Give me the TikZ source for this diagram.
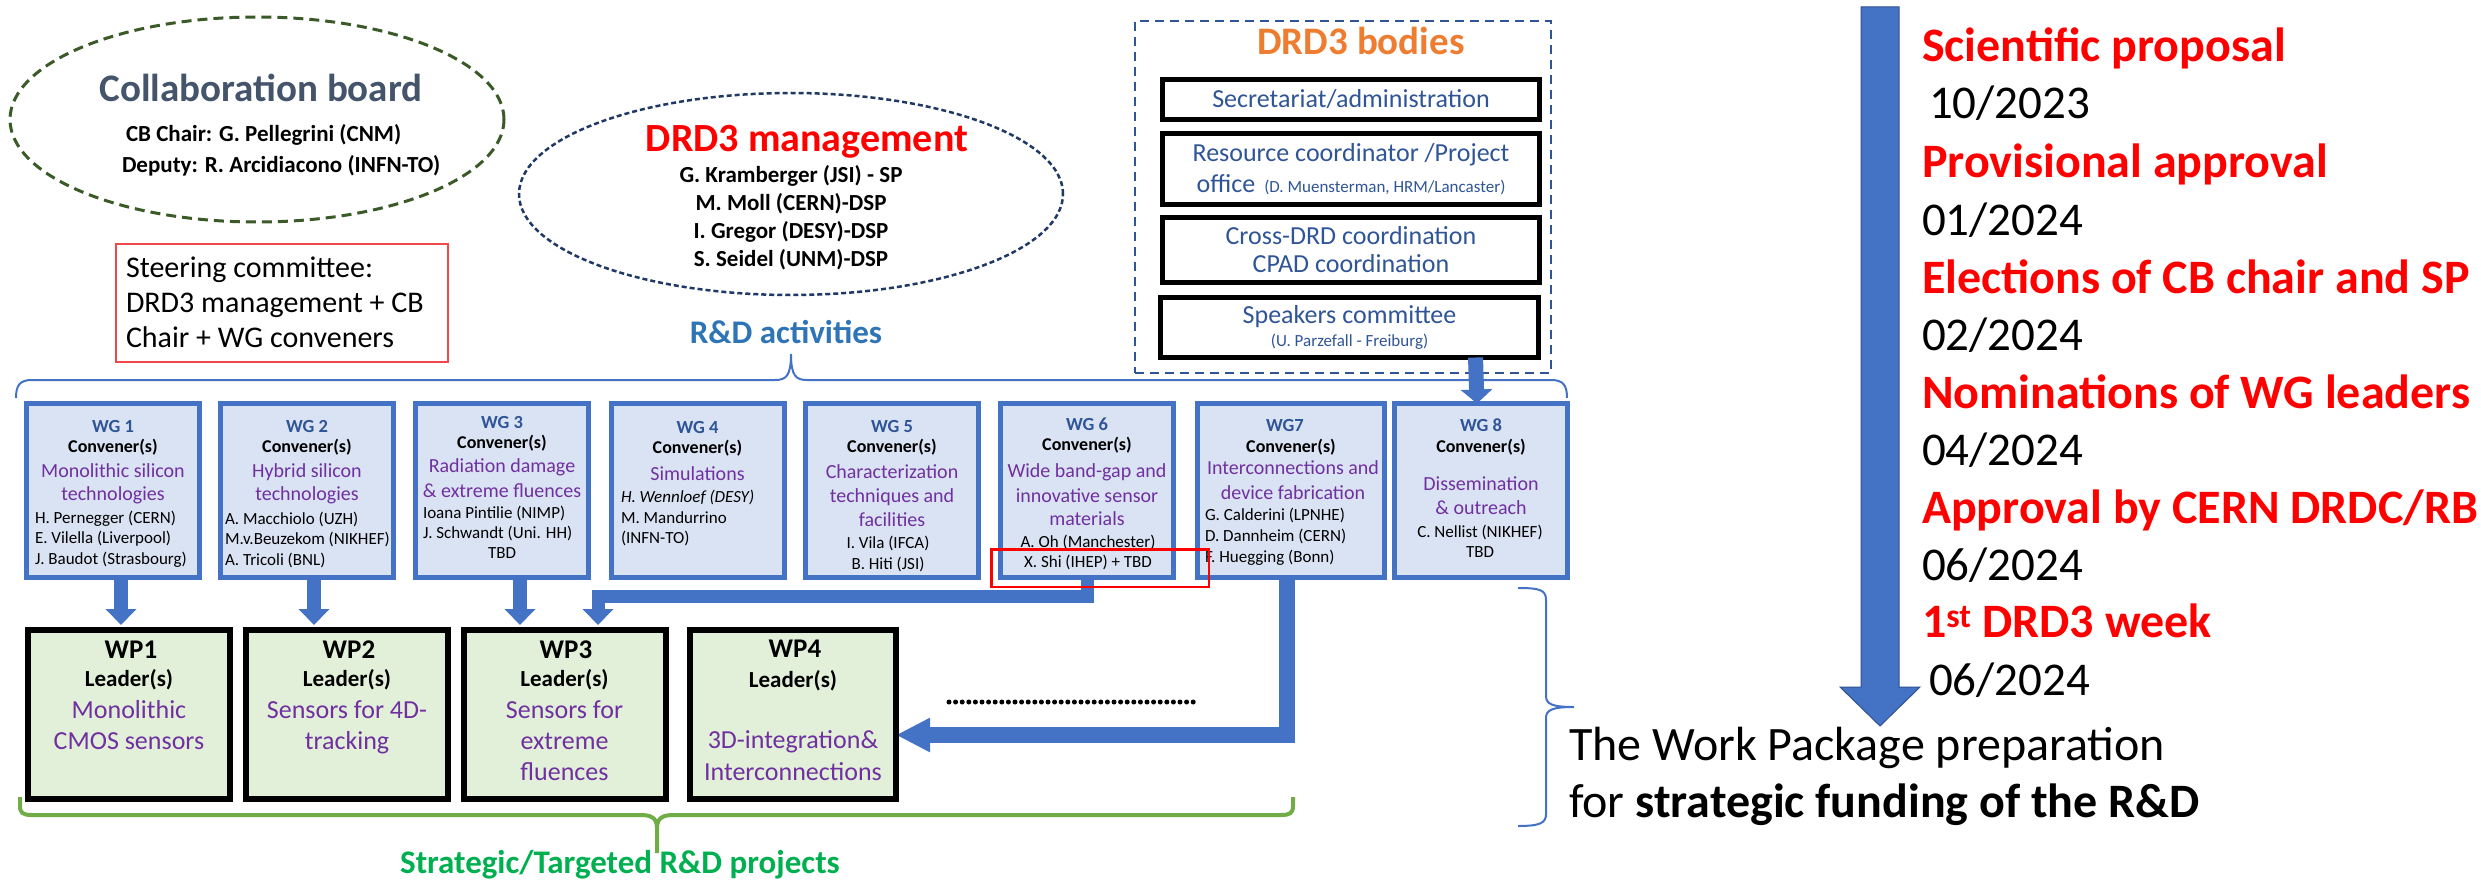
\documentclass[tikz,border=0pt]{standalone}
\usepackage{fontspec}
\setmainfont{Carlito}
\usetikzlibrary{arrows.meta,shapes.geometric}

\definecolor{wgtitle}{HTML}{2F5597}
\definecolor{wgedge}{HTML}{4472C4}
\definecolor{wgfill}{HTML}{DAE3F3}
\definecolor{wpfill}{HTML}{E2F0D9}
\definecolor{topic}{HTML}{7030A0}
\definecolor{flow}{HTML}{4472C4}
\definecolor{flowedge}{HTML}{2F528F}
\definecolor{alert}{HTML}{FF0000}
\definecolor{projgreen}{HTML}{70AD47}
\definecolor{projtext}{HTML}{00B050}
\definecolor{bodyorange}{HTML}{ED7D31}
\definecolor{slate}{HTML}{44546A}
\definecolor{rdblue}{HTML}{2E75B6}
\definecolor{cbgreen}{HTML}{3A5A28}
\definecolor{mgmtnavy}{HTML}{1F3864}
\definecolor{steerred}{HTML}{F04848}

\newcommand\setsz[1]{\fontsize{#1}{#1}\selectfont}

\tikzset{
  every node/.style={inner sep=0pt, outer sep=0pt},
  wgbox/.style={draw=wgedge, fill=wgfill, line width=5pt, minimum width=173pt, minimum height=174pt},
  wpbox/.style={draw=black, fill=wpfill, line width=6pt, minimum width=202pt, minimum height=169pt},
  bodybox/.style={draw=black, fill=white, line width=5pt, minimum width=377pt, text=wgtitle, align=center},
  wghd/.style={anchor=base, text=wgtitle, font=\setsz{18.5}\bfseries},
  wgcv/.style={anchor=base, font=\setsz{18}\bfseries},
  wgtp/.style={anchor=base, text=topic, font=\setsz{20}},
  wgnm/.style={anchor=base west, font=\setsz{17}},
  wgnc/.style={anchor=base, font=\setsz{17}},
  wphd/.style={anchor=base, font=\setsz{27}\bfseries},
  wpld/.style={anchor=base, font=\setsz{23}\bfseries},
  wptp/.style={anchor=base, text=topic, font=\setsz{26}},
  tlev/.style={anchor=base west, text=alert, font=\setsz{48}\bfseries},
  tldate/.style={anchor=base west, font=\setsz{47}},
  flowarrow/.style={draw=flow, line width=14pt, -{Triangle[width=30pt,length=16pt]}},
  bracketline/.style={draw=wgedge, line width=2pt},
}

\begin{document}
\begin{tikzpicture}[x=1pt,y=-1pt]
\useasboundingbox (0,0) rectangle (2481,880);
\fill[white] (0,0) rectangle (2481,880);

% ---------- Collaboration board ----------
\node[ellipse, draw=cbgreen, line width=3pt, dash pattern=on 10pt off 6pt,
      minimum width=494pt, minimum height=205pt] (cb) at (257,119.5) {};
\node[anchor=base, text=slate, font=\setsz{39}\bfseries] (cbT) at (261,102) {Collaboration board};
\node[anchor=base west, font=\setsz{23}\bfseries] (cbC) at (126,142) {CB Chair: G. Pellegrini (CNM)};
\node[anchor=base west, font=\setsz{23}\bfseries] (cbD) at (122,172) {Deputy: R. Arcidiacono (INFN-TO)};

% ---------- Steering committee ----------
\node[draw=steerred, line width=2pt, minimum width=332pt, minimum height=118pt] (steer) at (282,303) {};
\node[anchor=base west, font=\setsz{30}] (st1) at (126,277) {Steering committee:};
\node[anchor=base west, font=\setsz{30}] (st2) at (126,312) {DRD3 management + CB};
\node[anchor=base west, font=\setsz{30}] (st3) at (126,347) {Chair + WG conveners};

% ---------- DRD3 management ----------
\node[ellipse, draw=mgmtnavy, line width=2.5pt, dash pattern=on 5pt off 3pt,
      minimum width=544pt, minimum height=202pt] (mgmt) at (791,194) {};
\node[anchor=base, text=alert, font=\setsz{40}\bfseries] (mgT) at (807,151) {DRD3 management};
\node[anchor=base, font=\setsz{23}\bfseries] (mg1) at (791,182) {G. Kramberger (JSI) - SP};
\node[anchor=base, font=\setsz{23}\bfseries] (mg2) at (791,210) {M. Moll (CERN)-DSP};
\node[anchor=base, font=\setsz{23}\bfseries] (mg3) at (791,238) {I. Gregor (DESY)-DSP};
\node[anchor=base, font=\setsz{23}\bfseries] (mg4) at (791,266) {S. Seidel (UNM)-DSP};

% ---------- R&D activities brace ----------
\node[anchor=base, text=rdblue, font=\setsz{33}\bfseries] (rd) at (786,343) {R\&D activities};
\draw[bracketline] (16,398) .. controls (16,385) and (20,380) .. (32,380) -- (775,380)
  .. controls (786,380) and (791,376) .. (791,354)
  .. controls (791,376) and (796,380) .. (807,380) -- (1551,380)
  .. controls (1563,380) and (1567,385) .. (1567,398);

% ---------- DRD3 bodies ----------
\node[draw=wgtitle, line width=2pt, dash pattern=on 9pt off 6pt,
      minimum width=416pt, minimum height=352pt] (bodies) at (1343,197) {};
\node[anchor=base, text=bodyorange, font=\setsz{39}\bfseries] (bodT) at (1361,55) {DRD3 bodies};
\node[bodybox, minimum height=40pt, font=\setsz{26}] (sec) at (1351,99.5) {Secretariat/administration};
\node[bodybox, minimum height=71pt, font=\fontsize{26}{31}\selectfont] (res) at (1351,169)
  {Resource coordinator /Project\\office\hspace{9pt}{\setsz{17}(D. Muensterman, HRM/Lancaster)}};
\node[bodybox, minimum height=65pt, font=\fontsize{26}{28}\selectfont] (cross) at (1351,250)
  {Cross-DRD coordination\\CPAD coordination};
\node[bodybox, minimum height=60pt, minimum width=378pt, font=\fontsize{26}{23}\selectfont] (spk) at (1349.5,327.5)
  {Speakers committee\\{\setsz{17}(U. Parzefall - Freiburg)}};

% ---------- Box outlines used as anchors for the flow arrows ----------
\node[wgbox, draw=none, fill=none] (wg1) at (113,490.5) {};
\node[wgbox, draw=none, fill=none] (wg2) at (307,490.5) {};
\node[wgbox, draw=none, fill=none] (wg3) at (502,490.5) {};
\node[wgbox, draw=none, fill=none] (wg6) at (1087,490.5) {};
\node[wgbox, draw=none, fill=none, minimum width=187pt] (wg7) at (1291,490.5) {};
\node[wgbox, draw=none, fill=none] (wg8) at (1481,490.5) {};
\node[wpbox, draw=none, fill=none] (wp1) at (129,714.5) {};
\node[wpbox, draw=none, fill=none] (wp2) at (347,714.5) {};
\node[wpbox, draw=none, fill=none] (wp3) at (564.5,714.5) {};
\node[wpbox, draw=none, fill=none, minimum width=206pt] (wp4) at (793,714.5) {};
\coordinate (wp1top) at ([yshift=5pt]wp1.north);
\coordinate (wp2top) at ([yshift=5pt]wp2.north);
\coordinate (wp3top) at ([yshift=5pt]wp3.north);
\coordinate (wp3side) at ([xshift=33.5pt,yshift=5pt]wp3.north);
\coordinate (wp4in) at ([yshift=-20.5pt]wp4.east);

% ---------- Flow arrows (beneath the boxes) ----------
\draw[flowarrow] ([xshift=8pt]wg1.south) -- ([xshift=8pt]wg1.south |- wp1top);
\draw[flowarrow] ([xshift=7pt]wg2.south) -- ([xshift=7pt]wg2.south |- wp2top);
\draw[flowarrow] ([xshift=18pt]wg3.south) -- ([xshift=18pt]wg3.south |- wp3top);
\draw[flowarrow, line width=13pt, line join=miter]
  (wg6.south) -- ++(0,19) -| (wp3side);
\draw[flowarrow, line width=16pt, line join=miter, -{Triangle[width=32pt,length=34pt]}]
  ([xshift=-4pt]wg7.south) |- (wp4in);
\draw[flowarrow, line width=15pt, -{Triangle[width=31pt,length=14pt]}]
  ([xshift=126pt]spk.south) -- ([xshift=-4pt]wg8.north);

% ---------- Working groups ----------
\node[wgbox] (wg1b) at (113,490.5) {};
\node[wgbox] (wg2b) at (307,490.5) {};
\node[wgbox] (wg3b) at (502,490.5) {};
\node[wgbox] (wg4) at (697.5,490.5) {};
\node[wgbox] (wg5) at (892,490.5) {};
\node[wgbox] (wg6b) at (1087,490.5) {};
\node[wgbox, minimum width=187pt] (wg7b) at (1291,490.5) {};
\node[wgbox] (wg8b) at (1481,490.5) {};

% WG 1
\node[wghd] (g1a) at (113,432) {WG 1};
\node[wgcv] (g1b) at (113,452) {Convener(s)};
\node[wgtp] (g1c) at (113,477) {Monolithic silicon};
\node[wgtp] (g1d) at (113,500) {technologies};
\node[wgnm] (g1e) at (35,523) {H. Pernegger (CERN)};
\node[wgnm] (g1f) at (35,543) {E. Vilella (Liverpool)};
\node[wgnm] (g1g) at (35,564) {J. Baudot (Strasbourg)};
% WG 2
\node[wghd] (g2a) at (307,432) {WG 2};
\node[wgcv] (g2b) at (307,452) {Convener(s)};
\node[wgtp] (g2c) at (307,477) {Hybrid silicon};
\node[wgtp] (g2d) at (307,500) {technologies};
\node[wgnm] (g2e) at (225,524) {A. Macchiolo (UZH)};
\node[wgnm] (g2f) at (225,544) {M.v.Beuzekom (NIKHEF)};
\node[wgnm] (g2g) at (225,565) {A. Tricoli (BNL)};
% WG 3
\node[wghd] (g3a) at (502,428) {WG 3};
\node[wgcv] (g3b) at (502,448) {Convener(s)};
\node[wgtp] (g3c) at (502,472) {Radiation damage};
\node[wgtp] (g3d) at (502,497) {\& extreme fluences};
\node[wgnm] (g3e) at (423,518) {Ioana Pintilie (NIMP)};
\node[wgnm] (g3f) at (423,538) {J. Schwandt (Uni. HH)};
\node[wgnc] (g3g) at (502,558) {TBD};
% WG 4
\node[wghd] (g4a) at (697.5,433) {WG 4};
\node[wgcv] (g4b) at (697.5,453) {Convener(s)};
\node[wgtp] (g4c) at (697.5,480) {Simulations};
\node[wgnm, font=\setsz{17}\itshape] (g4d) at (621,502) {H. Wennloef (DESY)};
\node[wgnm] (g4e) at (621,523) {M. Mandurrino};
\node[wgnm] (g4f) at (621,543) {(INFN-TO)};
% WG 5
\node[wghd] (g5a) at (892,432) {WG 5};
\node[wgcv] (g5b) at (892,452) {Convener(s)};
\node[wgtp] (g5c) at (892,478) {Characterization};
\node[wgtp] (g5d) at (892,502) {techniques and};
\node[wgtp] (g5e) at (892,526) {facilities};
\node[wgnc] (g5f) at (888,548) {I. Vila (IFCA)};
\node[wgnc] (g5g) at (888,569) {B. Hiti (JSI)};
% WG 6
\node[wghd] (g6a) at (1087,430) {WG 6};
\node[wgcv] (g6b) at (1087,450) {Convener(s)};
\node[wgtp] (g6c) at (1087,477) {Wide band-gap and};
\node[wgtp] (g6d) at (1087,502) {innovative sensor};
\node[wgtp] (g6e) at (1087,525) {materials};
\node[wgnc] (g6f) at (1088,547) {A. Oh (Manchester)};
\node[wgnc] (g6g) at (1088,567) {X. Shi (IHEP) + TBD};
% WG 7
\node[wghd] (g7a) at (1285,431) {WG7};
\node[wgcv] (g7b) at (1291,452) {Convener(s)};
\node[wgtp] (g7c) at (1293,474) {Interconnections and};
\node[wgtp] (g7d) at (1293,499) {device fabrication};
\node[wgnm] (g7e) at (1205,520) {G. Calderini (LPNHE)};
\node[wgnm] (g7f) at (1205,541) {D. Dannheim (CERN)};
\node[wgnm] (g7g) at (1205,562) {F. Huegging (Bonn)};
% WG 8
\node[wghd] (g8a) at (1481,431) {WG 8};
\node[wgcv] (g8b) at (1481,452) {Convener(s)};
\node[wgtp] (g8c) at (1481,490) {Dissemination};
\node[wgtp] (g8d) at (1481,514) {\& outreach};
\node[wgnc] (g8e) at (1480,537) {C. Nellist (NIKHEF)};
\node[wgnc] (g8f) at (1480,557) {TBD};

% highlight around the WG 6 names
\node[draw=alert, line width=2.5pt, minimum width=217.5pt, minimum height=37.5pt] (shi) at (1100,568) {};

% ---------- Work packages ----------
\node[wpbox] (wp1b) at (129,714.5) {};
\node[wpbox] (wp2b) at (347,714.5) {};
\node[wpbox] (wp3b) at (564.5,714.5) {};
\node[wpbox, minimum width=206pt] (wp4b) at (793,714.5) {};

\node[wphd] (p1a) at (131,658) {WP1};
\node[wpld] (p1b) at (129,686) {Leader(s)};
\node[wptp] (p1c) at (129,718) {Monolithic};
\node[wptp] (p1d) at (129,749) {CMOS sensors};

\node[wphd] (p2a) at (349,658) {WP2};
\node[wpld] (p2b) at (347,686) {Leader(s)};
\node[wptp] (p2c) at (347,718) {Sensors for 4D-};
\node[wptp] (p2d) at (347,749) {tracking};

\node[wphd] (p3a) at (566,658) {WP3};
\node[wpld] (p3b) at (564.5,686) {Leader(s)};
\node[wptp] (p3c) at (564.5,718) {Sensors for};
\node[wptp] (p3d) at (564.5,749) {extreme};
\node[wptp] (p3e) at (564.5,780) {fluences};

\node[wphd] (p4a) at (795,657) {WP4};
\node[wpld] (p4b) at (793,687) {Leader(s)};
\node[wptp] (p4c) at (793,748) {3D-integration\&};
\node[wptp] (p4d) at (793,780) {Interconnections};

% further work packages to come
\coordinate (dotA) at (949,702);
\coordinate (dotB) at (1194,702);
\draw[line width=5pt, line cap=round, dash pattern=on 0pt off 6.6pt] (dotA) -- (dotB);

% ---------- Strategic projects brace ----------
\draw[draw=projgreen, line width=4pt]
  (20,797) -- (20,806) .. controls (20,813) and (23,815) .. (32,815) -- (640,815)
  .. controls (650,815) and (657,817) .. (657,828) -- (657,853) -- (657,828)
  .. controls (657,817) and (664,815) .. (674,815) -- (1281,815)
  .. controls (1290,815) and (1293,813) .. (1293,806) -- (1293,797);
\node[anchor=base, text=projtext, font=\setsz{33}\bfseries] (proj) at (620,873) {Strategic/Targeted R\&D projects};

% ---------- Timeline ----------
\filldraw[fill=flow, draw=flowedge, line width=1pt]
  (1861,7) -- (1899,7) -- (1899,687) -- (1920,687) -- (1880,726) -- (1840,687) -- (1861,687) -- cycle;

\node[tlev] (ev1) at (1922,62) {Scientific proposal};
\node[tldate] (d1) at (1929,119) {10/2023};
\node[tlev] (ev2) at (1922,177) {Provisional approval};
\node[tldate] (d2) at (1922,235) {01/2024};
\node[tlev] (ev3) at (1922,293) {Elections of CB chair and SP};
\node[tldate] (d3) at (1922,350) {02/2024};
\node[tlev] (ev4) at (1922,408) {Nominations of WG leaders};
\node[tldate] (d4) at (1922,465) {04/2024};
\node[tlev] (ev5) at (1922,523) {Approval by CERN DRDC/RB};
\node[tldate] (d5) at (1922,580) {06/2024};
\node[tlev] (ev6) at (1922,637) {1\textsuperscript{st} DRD3 week};
\node[tldate] (d6) at (1929,695) {06/2024};

% ---------- Work package brace and note ----------
\draw[bracketline]
  (1518,588) .. controls (1540,588) and (1546,590) .. (1546,600) -- (1546,696)
  .. controls (1546,704) and (1552,707) .. (1574,707)
  .. controls (1552,707) and (1546,710) .. (1546,718) -- (1546,814)
  .. controls (1546,823) and (1540,826) .. (1518,826);
\node[anchor=base west, font=\setsz{48}] (note1) at (1569,760) {The Work Package preparation};
\node[anchor=base west, font=\setsz{48}] (note2) at (1569,817) {for \textbf{strategic funding of the R\&D}};

\end{tikzpicture}
\end{document}
